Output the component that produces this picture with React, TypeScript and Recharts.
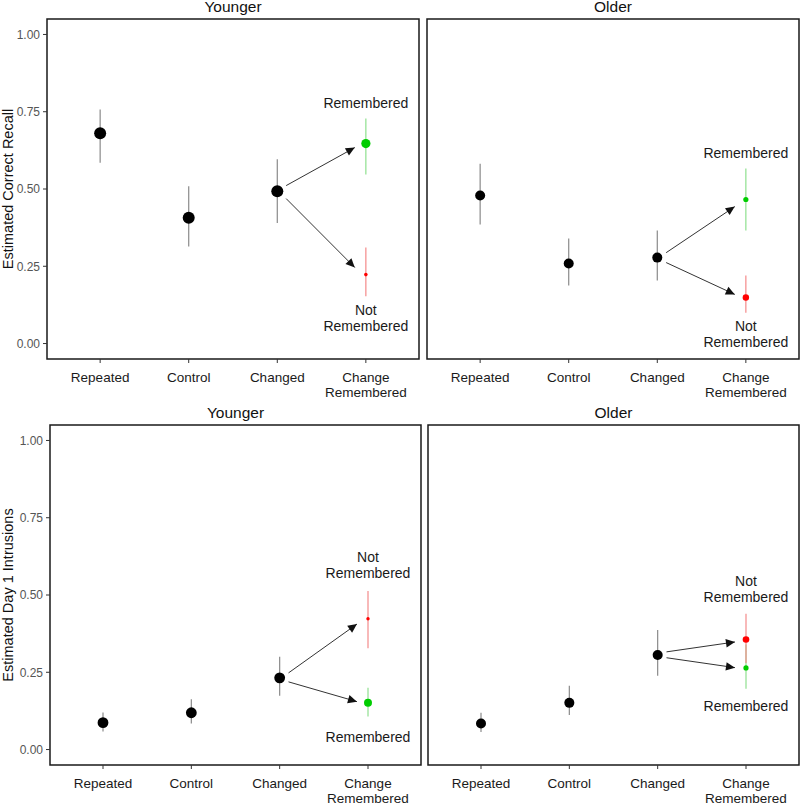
import React from 'react';
import { ComposedChart, Scatter, Line, XAxis, YAxis, ErrorBar, ReferenceArea } from 'recharts';

// ---------- data ----------
const categories = ['Repeated', 'Control', 'Changed', 'Change\nRemembered'];
const xTicks = [1, 2, 3, 4];
const yTicks = [0, 0.25, 0.5, 0.75, 1];
const arrowX = [3.1, 3.875];

// Correct recall – younger  [Repeated, Control, Changed]
const recallYoungerMean = [0.68, 0.407, 0.493];
const recallYoungerLow = [0.585, 0.314, 0.39];
const recallYoungerHigh = [0.757, 0.509, 0.596];
// [mean, low, high]
const recallYoungerRemembered = [0.647, 0.547, 0.728];
const recallYoungerNotRemembered = [0.223, 0.153, 0.311];
// [from, to]
const recallYoungerArrowRem = [0.511, 0.634];
const recallYoungerArrowNot = [0.469, 0.246];
const recallYoungerLabelY = [0.777, 0.084]; // Remembered, Not Remembered

// Correct recall – older
const recallOlderMean = [0.479, 0.259, 0.278];
const recallOlderLow = [0.385, 0.188, 0.204];
const recallOlderHigh = [0.582, 0.34, 0.366];
const recallOlderRemembered = [0.466, 0.366, 0.566];
const recallOlderNotRemembered = [0.149, 0.1, 0.22];
const recallOlderArrowRem = [0.294, 0.443];
const recallOlderArrowNot = [0.262, 0.159];
const recallOlderLabelY = [0.618, 0.031];

// Day 1 intrusions – younger
const intrYoungerMean = [0.087, 0.119, 0.232];
const intrYoungerLow = [0.058, 0.084, 0.174];
const intrYoungerHigh = [0.12, 0.163, 0.3];
const intrYoungerRemembered = [0.151, 0.107, 0.2];
const intrYoungerNotRemembered = [0.423, 0.328, 0.513];
const intrYoungerArrowRem = [0.219, 0.155];
const intrYoungerArrowNot = [0.248, 0.406];
const intrYoungerLabelY = [0.042, 0.597];

// Day 1 intrusions – older
const intrOlderMean = [0.084, 0.151, 0.306];
const intrOlderLow = [0.057, 0.112, 0.239];
const intrOlderHigh = [0.119, 0.206, 0.387];
const intrOlderRemembered = [0.264, 0.197, 0.34];
const intrOlderNotRemembered = [0.356, 0.28, 0.439];
const intrOlderArrowRem = [0.297, 0.265];
const intrOlderArrowNot = [0.316, 0.348];
const intrOlderLabelY = [0.142, 0.518];

// ---------- styles ----------
const FONT = '"Liberation Sans", Arial, Helvetica, sans-serif';
const GREEN = '#00CD00';
const RED = '#FF0000';
const GREEN_BAR = '#8FE08F';
const RED_BAR = '#F48A8A';
const BLACK_BAR = '#8A8A8A';

type Radii = { black: number; rem: number; not: number };

type PanelProps = {
  left: number; top: number; width: number; height: number;
  margin: { top: number; right: number; bottom: number; left: number };
  yAxisWidth: number; xAxisHeight: number; showY: boolean;
  title: string; yTitle?: string;
  mean: number[]; low: number[]; high: number[];
  rem: number[]; notRem: number[];
  arrowRem: number[]; arrowNot: number[];
  labelY: number[];
  radii: Radii;
};

const XTick = (props: any) => {
  const { x, y, payload } = props;
  const lines = categories[Math.round(payload.value) - 1].split('\n');
  return (
    <text x={x} y={y} textAnchor="middle" fontSize={13.5} fill="#1a1a1a" fontFamily={FONT}>
      {lines.map((l, i) => (
        <tspan key={i} x={x} y={y + 19 + i * 15}>{l}</tspan>
      ))}
    </text>
  );
};

const makeDot = (fill: string, r: number) => (p: any) => (
  <circle key={`${p.cx}-${p.cy}`} cx={p.cx} cy={p.cy} r={r} fill={fill} />
);

const hidden = (p: any) => <g key={`${p.cx}-${p.cy}`} />;

const LabelShape = (p: any) => {
  const { cx, cy, payload } = p;
  const lines: string[] = payload.text.split('\n');
  const lh = 16;
  const y0 = cy - ((lines.length - 1) * lh) / 2;
  return (
    <text textAnchor="middle" fontSize={14} fill="#1a1a1a" fontFamily={FONT}>
      {lines.map((l, i) => (
        <tspan key={i} x={cx} y={y0 + i * lh} dy="0.36em">{l}</tspan>
      ))}
    </text>
  );
};

const ArrowHead = (p: any) => {
  const { cx, cy, index, points } = p;
  if (index !== 1 || !points || points.length < 2) return <g key={`a${index}`} />;
  const p0 = points[0];
  const ang = Math.atan2(cy - p0.y, cx - p0.x);
  const len = 9;
  const half = 4.2;
  const bx = cx - len * Math.cos(ang);
  const by = cy - len * Math.sin(ang);
  const px = -Math.sin(ang) * half;
  const py = Math.cos(ang) * half;
  return (
    <polygon
      key={`a${index}`}
      points={`${cx},${cy} ${bx + px},${by + py} ${bx - px},${by - py}`}
      fill="#111"
    />
  );
};

const YTitle = (props: any) => {
  const { viewBox, value } = props;
  const cx = 8;
  const cy = viewBox.y + viewBox.height / 2;
  return (
    <text
      x={cx} y={cy} transform={`rotate(-90 ${cx} ${cy})`}
      textAnchor="middle" dominantBaseline="central"
      fontSize={14.5} fill="#111" fontFamily={FONT}
    >
      {value}
    </text>
  );
};

const Panel = (props: PanelProps) => {
  const {
    left, top, width, height, margin, yAxisWidth, xAxisHeight, showY, title, yTitle,
    mean, low, high, rem, notRem, arrowRem, arrowNot, labelY, radii,
  } = props;

  const blackData = mean.map((m, i) => ({ x: i + 1, y: m, err: [m - low[i], high[i] - m] }));
  const remData = [{ x: 4, y: rem[0], err: [rem[0] - rem[1], rem[2] - rem[0]] }];
  const notData = [{ x: 4, y: notRem[0], err: [notRem[0] - notRem[1], notRem[2] - notRem[0]] }];
  const arrowRemData = [{ x: arrowX[0], y: arrowRem[0] }, { x: arrowX[1], y: arrowRem[1] }];
  const arrowNotData = [{ x: arrowX[0], y: arrowNot[0] }, { x: arrowX[1], y: arrowNot[1] }];
  const labelData = [
    { x: 4, y: labelY[0], text: 'Remembered' },
    { x: 4, y: labelY[1], text: 'Not\nRemembered' },
  ];

  const plotLeft = margin.left + yAxisWidth;
  const plotRight = width - margin.right;

  return (
    <div style={{ position: 'absolute', left, top, width, height }}>
      <div
        style={{
          position: 'absolute', left: plotLeft, width: plotRight - plotLeft, top: margin.top - 22,
          height: 20, lineHeight: '20px', textAlign: 'center', fontFamily: FONT, fontSize: 15.5, color: '#111',
        }}
      >
        {title}
      </div>
      <ComposedChart width={width} height={height} margin={margin}>
        <XAxis
          dataKey="x" type="number" domain={[0.4, 4.6]} allowDataOverflow ticks={xTicks}
          axisLine={false} tickLine={{ stroke: '#333' }} tickSize={4} tickMargin={0}
          height={xAxisHeight} tick={<XTick />} interval={0}
        />
        <YAxis
          dataKey="y" type="number" domain={[-0.05, 1.05]} allowDataOverflow ticks={yTicks}
          width={yAxisWidth} hide={!showY}
          axisLine={false} tickLine={{ stroke: '#333' }} tickSize={4} tickMargin={3}
          tick={{ fill: '#555', fontSize: 12, fontFamily: FONT }}
          tickFormatter={(v: number) => v.toFixed(2)}
          label={yTitle ? { value: yTitle, content: <YTitle value={yTitle} /> } : undefined}
        />
        <ReferenceArea
          x1={0.4} x2={4.6} y1={-0.05} y2={1.05} ifOverflow="visible"
          fill="none" stroke="#1a1a1a" strokeWidth={1.5} fillOpacity={0}
        />
        <Scatter data={blackData} dataKey="y" shape={hidden} isAnimationActive={false}>
          <ErrorBar dataKey="err" direction="y" width={0} stroke={BLACK_BAR} strokeWidth={1.2} />
        </Scatter>
        <Scatter data={remData} dataKey="y" shape={hidden} isAnimationActive={false}>
          <ErrorBar dataKey="err" direction="y" width={0} stroke={GREEN_BAR} strokeWidth={1.2} />
        </Scatter>
        <Scatter data={notData} dataKey="y" shape={hidden} isAnimationActive={false}>
          <ErrorBar dataKey="err" direction="y" width={0} stroke={RED_BAR} strokeWidth={1.2} />
        </Scatter>
        <Scatter data={blackData} dataKey="y" shape={makeDot('#000', radii.black)} isAnimationActive={false} />
        <Scatter data={remData} dataKey="y" shape={makeDot(GREEN, radii.rem)} isAnimationActive={false} />
        <Scatter data={notData} dataKey="y" shape={makeDot(RED, radii.not)} isAnimationActive={false} />
        <Line
          data={arrowRemData} dataKey="y" stroke="#333" strokeWidth={1}
          dot={ArrowHead} activeDot={false} isAnimationActive={false} type="linear"
        />
        <Line
          data={arrowNotData} dataKey="y" stroke="#333" strokeWidth={1}
          dot={ArrowHead} activeDot={false} isAnimationActive={false} type="linear"
        />
        <Scatter data={labelData} dataKey="y" shape={LabelShape} isAnimationActive={false} />
      </ComposedChart>
    </div>
  );
};

export default function App() {
  return (
    <div style={{ position: 'absolute', left: 0, top: 0, width: 800, height: 803, background: '#fff', overflow: 'hidden' }}>
      <Panel
        left={0} top={0} width={420} height={400}
        margin={{ top: 19, right: 1, bottom: 0, left: 0 }} yAxisWidth={47} xAxisHeight={41} showY
        title="Younger" yTitle="Estimated Correct Recall"
        mean={recallYoungerMean} low={recallYoungerLow} high={recallYoungerHigh}
        rem={recallYoungerRemembered} notRem={recallYoungerNotRemembered}
        arrowRem={recallYoungerArrowRem} arrowNot={recallYoungerArrowNot}
        labelY={recallYoungerLabelY} radii={{ black: 6, rem: 4.6, not: 1.8 }}
      />
      <Panel
        left={420} top={0} width={380} height={400}
        margin={{ top: 19, right: 1, bottom: 0, left: 7 }} yAxisWidth={0} xAxisHeight={41} showY={false}
        title="Older"
        mean={recallOlderMean} low={recallOlderLow} high={recallOlderHigh}
        rem={recallOlderRemembered} notRem={recallOlderNotRemembered}
        arrowRem={recallOlderArrowRem} arrowNot={recallOlderArrowNot}
        labelY={recallOlderLabelY} radii={{ black: 5, rem: 2.6, not: 3.2 }}
      />
      <Panel
        left={0} top={400} width={422} height={403}
        margin={{ top: 25, right: 1, bottom: 0, left: 0 }} yAxisWidth={50} xAxisHeight={38} showY
        title="Younger" yTitle="Estimated Day 1 Intrusions"
        mean={intrYoungerMean} low={intrYoungerLow} high={intrYoungerHigh}
        rem={intrYoungerRemembered} notRem={intrYoungerNotRemembered}
        arrowRem={intrYoungerArrowRem} arrowNot={intrYoungerArrowNot}
        labelY={intrYoungerLabelY} radii={{ black: 5.4, rem: 4, not: 1.7 }}
      />
      <Panel
        left={421} top={400} width={379} height={403}
        margin={{ top: 25, right: 1, bottom: 0, left: 7 }} yAxisWidth={0} xAxisHeight={38} showY={false}
        title="Older"
        mean={intrOlderMean} low={intrOlderLow} high={intrOlderHigh}
        rem={intrOlderRemembered} notRem={intrOlderNotRemembered}
        arrowRem={intrOlderArrowRem} arrowNot={intrOlderArrowNot}
        labelY={intrOlderLabelY} radii={{ black: 5, rem: 2.6, not: 3.3 }}
      />
    </div>
  );
}
